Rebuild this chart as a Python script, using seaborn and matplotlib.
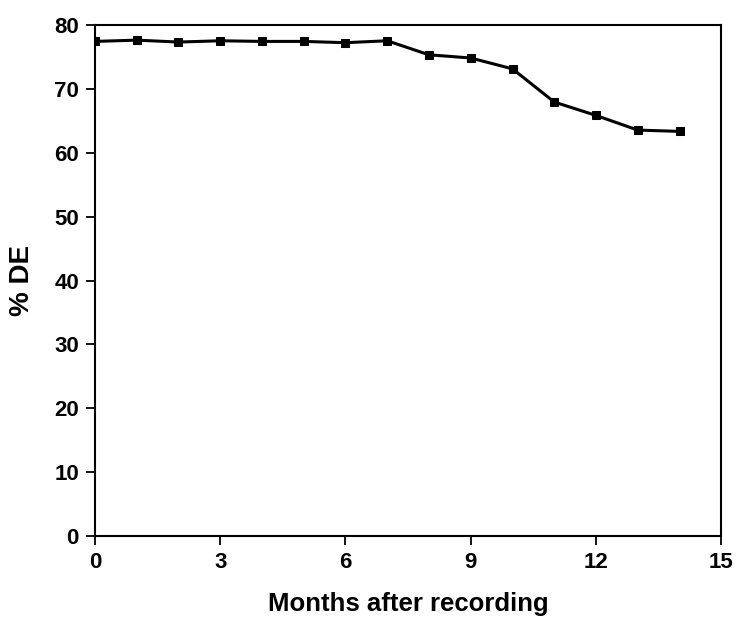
import numpy as np
import pandas as pd
import matplotlib
matplotlib.use("Agg")
import matplotlib.pyplot as plt
import seaborn as sns

# values
months = [0, 1, 2, 3, 4, 5, 6, 7, 8, 9, 10, 11, 12, 13, 14]
de_pct = [77.5, 77.7, 77.4, 77.6, 77.5, 77.5, 77.3, 77.6, 75.4, 74.9, 73.2, 68.0, 65.9, 63.6, 63.4]
x_ticks = [0, 3, 6, 9, 12, 15]
y_ticks = [0, 10, 20, 30, 40, 50, 60, 70, 80]

df = pd.DataFrame({"month": months, "de": de_pct})

sns.set_style("ticks")
plt.rcParams["font.family"] = ["Liberation Sans", "DejaVu Sans"]
plt.rcParams["font.weight"] = "bold"
plt.rcParams["text.color"] = "black"
plt.rcParams["axes.labelcolor"] = "black"

fig = plt.figure(figsize=(7.36, 6.21), dpi=100)
ax = fig.add_axes([0.129, 0.137, 0.851, 0.822])

sns.lineplot(data=df, x="month", y="de", ax=ax, color="black", lw=2.2,
             marker="s", markersize=6, markeredgecolor="black")

ax.set_xlim(0, 15)
ax.set_ylim(0, 80)
ax.set_xticks(x_ticks)
ax.set_yticks(y_ticks)
ax.tick_params(direction="out", length=6.5, width=1.3, pad=5, labelsize=16, colors="black")
for lab in ax.get_xticklabels() + ax.get_yticklabels():
    lab.set_fontweight("bold")
for spine in ax.spines.values():
    spine.set_visible(True)
    spine.set_linewidth(1.5)
    spine.set_color("black")

ax.set_xlabel("Months after recording", fontsize=18.5, fontweight="bold", labelpad=14)
ax.set_ylabel("% DE", fontsize=20, fontweight="bold", labelpad=14)

fig.savefig("out.png", dpi=100, facecolor="white")
